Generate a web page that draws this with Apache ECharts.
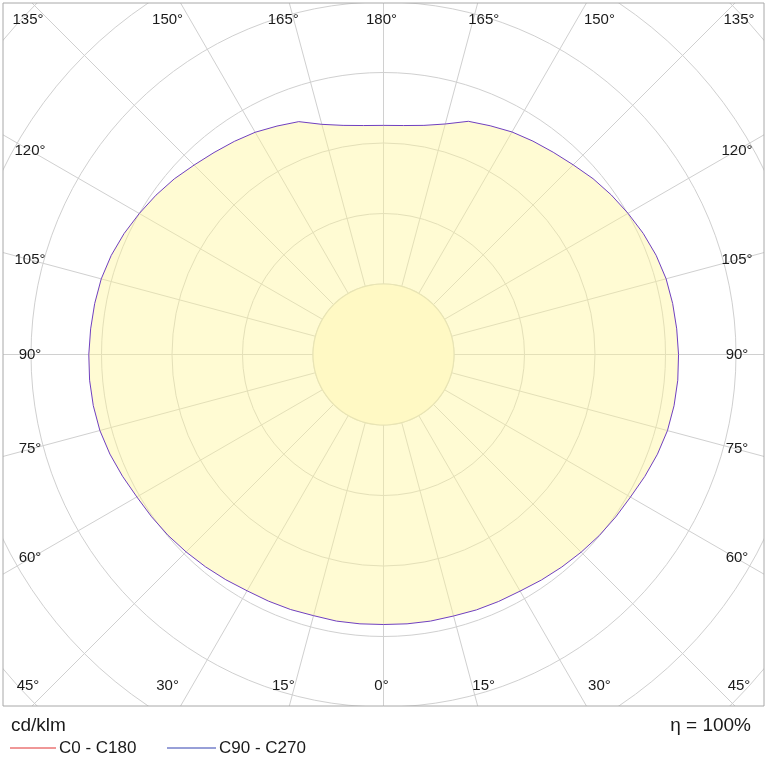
<!DOCTYPE html>
<html><head><meta charset="utf-8">
<script src="https://cdn.jsdelivr.net/npm/echarts@6/dist/echarts.min.js"></script>
<style>html,body{margin:0;padding:0;background:#fff}#c{width:767px;height:767px}</style>
</head><body><div id="c"></div>
<script>
// gamma angles (deg) and luminous intensity (cd/klm)
var gammas = [0,5,10,15,20,25,30,35,40,45,50,55,60,65,70,75,80,85,90,95,100,105,110,115,120,125,130,135,140,145,150,155,160,165,170,175,180];
var c90Values = [76.6,76.7,76.8,76.7,77.0,77.2,77.4,78.0,78.6,79.2,79.8,80.3,80.8,81.7,82.6,83.3,83.6,83.7,83.6,83.4,83.2,82.9,82.2,81.2,80.0,78.8,77.5,76.0,74.8,73.8,72.8,71.5,70.3,67.6,66.0,65.2,65.0];
var c270Values = [76.6,76.7,76.8,76.8,77.1,77.3,77.5,78.1,78.7,79.3,79.9,80.4,80.9,81.8,82.7,83.4,83.7,83.8,83.7,83.5,83.3,83.0,82.3,81.3,80.1,78.9,77.6,76.1,74.9,73.9,72.9,71.6,70.4,67.7,66.0,65.2,65.0];
var radialTicks = [40,60,80];
var angleTickLabels = ['0°','15°','30°','45°','60°','75°','90°','105°','120°','135°','150°','165°','180°'];
var legendNames = ['C0 - C180','C90 - C270'];

var cx = 383.5, cy = 354.5, pxPerUnit = 3.525, rMax = 160;
var box = {l:3, t:3, r:764, b:706};

var curve = [];
for (var i=0;i<gammas.length;i++) curve.push([c90Values[i], gammas[i]]);
for (var j=gammas.length-2;j>=0;j--) curve.push([c270Values[j], 360-gammas[j]]);
var inner = [];
for (var a=0;a<=360;a+=5) inner.push([20,a]);

var graphics = [];
graphics.push({type:'rect',z:100,shape:{x:0,y:0,width:767,height:box.t},style:{fill:'#fff'}});
graphics.push({type:'rect',z:100,shape:{x:0,y:box.b,width:767,height:767-box.b},style:{fill:'#fff'}});
graphics.push({type:'rect',z:100,shape:{x:0,y:0,width:box.l,height:767},style:{fill:'#fff'}});
graphics.push({type:'rect',z:100,shape:{x:box.r,y:0,width:767-box.r,height:767},style:{fill:'#fff'}});
graphics.push({type:'rect',z:101,shape:{x:box.l,y:box.t,width:box.r-box.l,height:box.b-box.t},style:{fill:'none',stroke:'#a8a8a8',lineWidth:1}});
var font = '15px "Liberation Sans", Arial, sans-serif';
angleTickLabels.forEach(function(lab, k){
  var g = k*15;
  [-1,1].forEach(function(side){
    if ((g===0||g===180) && side===1) return;
    var x, y, phi;
    if (g===45 || g===135) { x = side<0 ? 28 : 739; y = g===45 ? 686 : 20; }
    else if (g<45) { phi = g*Math.PI/180; x = cx + side*374*Math.tan(phi); y = 686; }
    else if (g>135) { phi = (180-g)*Math.PI/180; x = cx + side*374*Math.tan(phi); y = 20; }
    else { phi = (90-g)*Math.PI/180; x = side<0 ? 30 : 737; y = cy + 353*Math.tan(phi); }
    if (g===0||g===180) x = cx-2;
    graphics.push({type:'text',z:102,x:x,y:y,style:{text:lab,font:font,fill:'#1a1a1a',align:'center',verticalAlign:'middle'}});
  });
});
var f18 = '19px "Liberation Sans", Arial, sans-serif', f16 = '17px "Liberation Sans", Arial, sans-serif';
graphics.push({type:'text',z:102,x:11,y:726,style:{text:'cd/klm',font:f18,fill:'#1a1a1a',verticalAlign:'middle'}});
graphics.push({type:'text',z:102,x:751,y:726,style:{text:'η = 100%',font:f18,fill:'#1a1a1a',align:'right',verticalAlign:'middle'}});
graphics.push({type:'line',z:102,shape:{x1:10,y1:748,x2:56,y2:748},style:{stroke:'#e03030',lineWidth:1}});
graphics.push({type:'text',z:102,x:59,y:748,style:{text:legendNames[0],font:f16,fill:'#1a1a1a',verticalAlign:'middle'}});
graphics.push({type:'line',z:102,shape:{x1:167,y1:748,x2:216,y2:748},style:{stroke:'#3040b0',lineWidth:1}});
graphics.push({type:'text',z:102,x:219,y:748,style:{text:legendNames[1],font:f16,fill:'#1a1a1a',verticalAlign:'middle'}});

var chart = echarts.init(document.getElementById('c'));
chart.setOption({
  animation:false,
  backgroundColor:'#fff',
  polar:{center:[cx,cy], radius: rMax*pxPerUnit},
  angleAxis:{type:'value',min:0,max:360,interval:15,startAngle:270,clockwise:true,
    axisLine:{show:false},axisTick:{show:false},axisLabel:{show:false},
    splitLine:{show:true,lineStyle:{color:'#d0d0d0',width:1}}},
  radiusAxis:{type:'value',min:0,max:rMax,interval:20,
    axisLine:{show:false},axisTick:{show:false},axisLabel:{show:false},
    splitLine:{show:true,lineStyle:{color:'#d0d0d0',width:1}}},
  series:[
    {type:'line',coordinateSystem:'polar',data:curve,symbol:'none',smooth:false,z:2,
      lineStyle:{color:'#7040c0',width:1},areaStyle:{color:'rgba(255,246,150,0.6)'}},
    {type:'line',coordinateSystem:'polar',data:inner,symbol:'none',smooth:true,z:3,
      lineStyle:{color:'#e8e4b4',width:1.2},areaStyle:{color:'#fff9c4',opacity:1}},
    {type:'scatter',coordinateSystem:'polar',z:4,symbolSize:1,itemStyle:{opacity:0},
      data:radialTicks.map(function(v){
        return {value:[v,180],label:{backgroundColor: v>70 ? '#ffffff' : '#fff9c4'}};}),
      label:{show:true,position:'inside',formatter:function(p){return p.value[0];},
        fontSize:15,fontFamily:'Liberation Sans, Arial',color:'#1a1a1a',padding:[1,2]}}
  ],
  graphic:graphics
});
</script></body></html>
